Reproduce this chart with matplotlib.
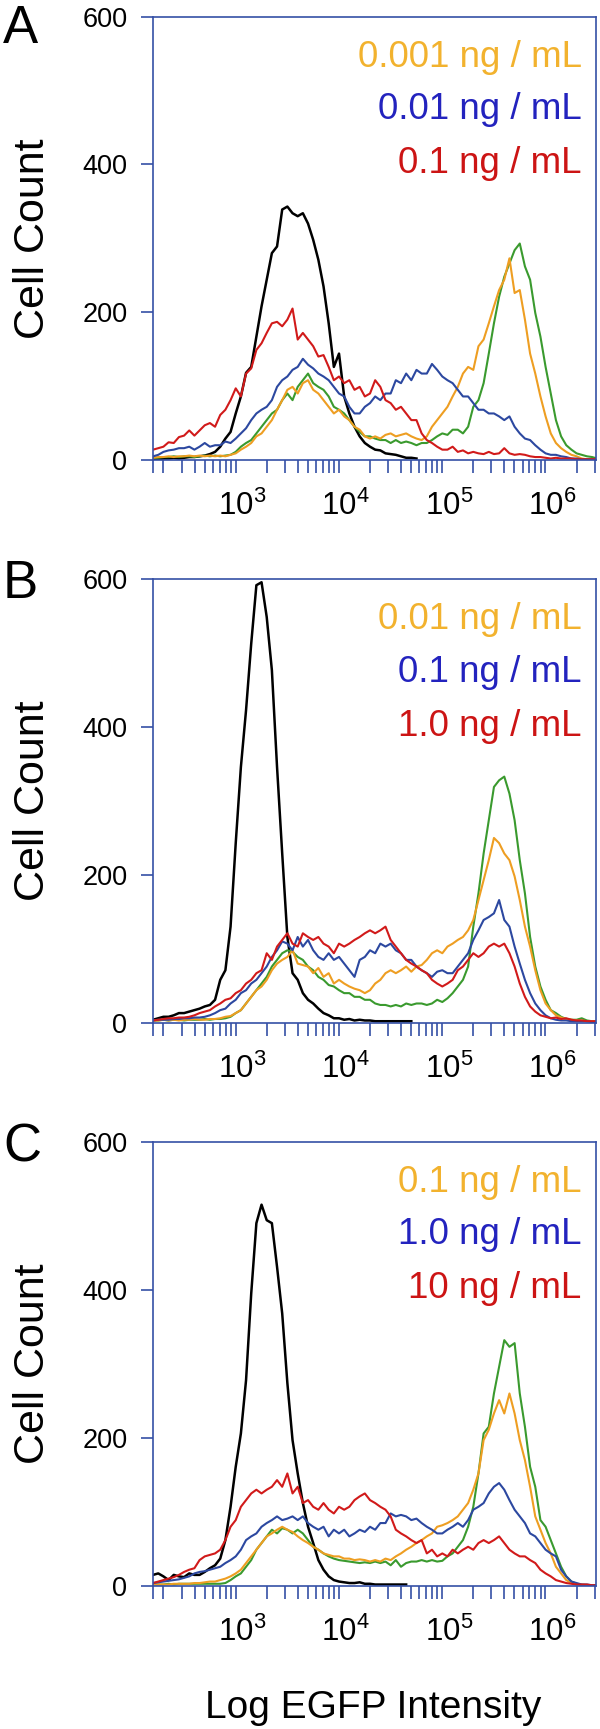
import numpy as np
import matplotlib
matplotlib.use("Agg")
import matplotlib.pyplot as plt
from matplotlib.ticker import FixedLocator, FixedFormatter, NullFormatter

plt.rcParams['font.family'] = ['Liberation Sans', 'DejaVu Sans']
plt.rcParams['mathtext.fontset'] = 'custom'
plt.rcParams['mathtext.rm'] = 'Liberation Sans'

nan = float('nan')

# histogram bin centres, log10(EGFP intensity)
log_bins = [1.90, 1.95, 2.00, 2.05, 2.10, 2.15, 2.20, 2.25, 2.30, 2.35,
            2.40, 2.45, 2.50, 2.55, 2.60, 2.65, 2.70, 2.75, 2.80, 2.85,
            2.90, 2.95, 3.00, 3.05, 3.10, 3.15, 3.20, 3.25, 3.30, 3.35,
            3.40, 3.45, 3.50, 3.55, 3.60, 3.65, 3.70, 3.75, 3.80, 3.85,
            3.90, 3.95, 4.00, 4.05, 4.10, 4.15, 4.20, 4.25, 4.30, 4.35,
            4.40, 4.45, 4.50, 4.55, 4.60, 4.65, 4.70, 4.75, 4.80, 4.85,
            4.90, 4.95, 5.00, 5.05, 5.10, 5.15, 5.20, 5.25, 5.30, 5.35,
            5.40, 5.45, 5.50, 5.55, 5.60, 5.65, 5.70, 5.75, 5.80, 5.85,
            5.90, 5.95, 6.00, 6.05, 6.10, 6.15, 6.20]

# ---------------- Panel A ----------------
A_black = [1, 1, 2, 2, 3, 2, 3, 4, 4, 5,
           6, 8, 11, 18, 29, 38, 63, 86, 118, 126,
           167, 208, 244, 280, 289, 339, 343, 334, 330, 334,
           320, 298, 271, 235, 185, 126, 144, 86, 63, 45,
           32, 23, 18, 14, 13, 9, 8, 7, 5, 3,
           3, 2, nan, nan, nan, nan, nan, nan, nan, nan,
           nan, nan, nan, nan, nan, nan, nan, nan, nan, nan,
           nan, nan, nan, nan, nan, nan, nan, nan, nan, nan,
           nan, nan, nan, nan, nan, nan, nan]
A_green = [3, 3, 4, 4, 5, 4, 5, 5, 4, 5,
           6, 5, 6, 5, 6, 7, 11, 18, 23, 27,
           36, 45, 54, 63, 68, 81, 90, 81, 99, 108,
           117, 104, 99, 95, 86, 72, 68, 63, 54, 45,
           38, 32, 32, 29, 27, 27, 23, 27, 23, 25,
           23, 20, 23, 23, 27, 32, 36, 34, 41, 41,
           36, 45, 72, 81, 104, 144, 185, 221, 248, 266,
           284, 293, 262, 244, 199, 167, 126, 90, 54, 32,
           20, 14, 9, 7, 5, 4, 2]
A_orange = [3, 4, 4, 5, 4, 5, 5, 6, 5, 6,
            5, 6, 5, 6, 5, 7, 9, 14, 18, 23,
            32, 36, 45, 54, 68, 81, 95, 99, 90, 104,
            108, 95, 90, 81, 72, 63, 68, 59, 54, 45,
            41, 32, 29, 32, 29, 34, 36, 32, 34, 36,
            32, 29, 27, 32, 45, 54, 63, 72, 86, 99,
            117, 126, 122, 154, 163, 185, 208, 230, 244, 273,
            226, 230, 190, 144, 117, 86, 59, 36, 23, 16,
            11, 7, 5, 2, 1, 1, 1]
A_blue = [5, 7, 11, 13, 14, 16, 16, 18, 14, 18,
          23, 18, 20, 20, 25, 23, 29, 36, 43, 54,
          63, 68, 72, 81, 99, 108, 113, 122, 126, 137,
          129, 124, 117, 113, 108, 99, 90, 86, 72, 63,
          63, 72, 77, 86, 81, 90, 90, 108, 104, 117,
          108, 122, 117, 117, 130, 122, 113, 108, 104, 95,
          86, 86, 77, 68, 68, 63, 63, 59, 54, 59,
          45, 36, 29, 27, 20, 14, 9, 7, 7, 5,
          4, 2, 2, 1, 1, 1, 1]
A_red = [14, 16, 18, 24, 23, 31, 33, 40, 33, 40,
         47, 50, 45, 61, 68, 81, 97, 86, 117, 124,
         149, 158, 172, 185, 187, 181, 190, 205, 163, 172,
         163, 154, 140, 142, 126, 108, 113, 104, 108, 95,
         99, 86, 90, 108, 99, 81, 77, 68, 72, 63,
         54, 54, 36, 27, 23, 18, 14, 14, 18, 11,
         13, 9, 11, 9, 8, 11, 8, 9, 16, 9,
         7, 8, 7, 5, 4, 4, 3, 2, 3, 2,
         2, 2, 1, 1, 1, 1, 1]

# ---------------- Panel B ----------------
B_black = [4, 6, 8, 8, 10, 13, 13, 15, 17, 19,
           22, 24, 31, 58, 71, 130, 243, 346, 423, 513,
           592, 596, 549, 477, 346, 229, 116, 67, 58, 40,
           31, 26, 19, 13, 10, 6, 6, 4, 5, 3,
           4, 3, 3, 2, 2, 2, 2, 2, 2, 2,
           2, nan, nan, nan, nan, nan, nan, nan, nan, nan,
           nan, nan, nan, nan, nan, nan, nan, nan, nan, nan,
           nan, nan, nan, nan, nan, nan, nan, nan, nan, nan,
           nan, nan, nan, nan, nan, nan, nan]
B_green = [3, 3, 4, 3, 4, 4, 3, 4, 4, 4,
           5, 4, 5, 5, 6, 8, 13, 17, 26, 35,
           44, 53, 62, 76, 85, 94, 98, 96, 89, 85,
           76, 71, 62, 58, 51, 49, 44, 40, 40, 35,
           35, 31, 31, 26, 24, 24, 22, 24, 22, 26,
           24, 26, 26, 24, 26, 31, 28, 33, 40, 49,
           58, 76, 130, 175, 229, 274, 319, 328, 333, 310,
           274, 220, 175, 116, 76, 49, 31, 17, 13, 8,
           5, 4, 4, 6, 3, 2, 2]
B_orange = [3, 3, 4, 3, 4, 3, 4, 4, 5, 4,
            4, 5, 5, 6, 8, 9, 13, 17, 26, 35,
            44, 49, 58, 71, 80, 85, 89, 98, 80, 78,
            76, 67, 74, 62, 67, 53, 58, 53, 49, 46,
            44, 40, 44, 53, 58, 67, 71, 67, 71, 76,
            69, 76, 78, 85, 94, 98, 94, 103, 107, 112,
            116, 125, 139, 166, 193, 220, 250, 243, 229, 220,
            198, 166, 130, 103, 71, 44, 26, 17, 10, 7,
            5, 4, 3, 3, 2, 2, 2]
B_blue = [3, 4, 4, 4, 5, 5, 6, 6, 7, 7,
          8, 10, 13, 17, 19, 26, 31, 40, 44, 53,
          58, 67, 76, 89, 98, 110, 107, 98, 116, 103,
          112, 98, 89, 85, 94, 85, 89, 80, 71, 62,
          85, 89, 98, 94, 107, 103, 107, 98, 94, 85,
          85, 76, 71, 67, 62, 69, 71, 67, 67, 76,
          85, 94, 112, 125, 139, 143, 148, 166, 139, 130,
          103, 80, 58, 40, 26, 17, 10, 6, 4, 3,
          3, 2, 2, 2, 2, 1, 1]
B_red = [3, 4, 5, 6, 6, 7, 7, 8, 10, 13,
         15, 17, 22, 26, 31, 33, 40, 44, 53, 58,
         67, 71, 94, 85, 103, 112, 121, 107, 103, 121,
         116, 112, 116, 107, 103, 94, 107, 103, 107, 112,
         116, 121, 125, 121, 125, 130, 112, 103, 94, 85,
         80, 76, 71, 67, 58, 53, 49, 53, 58, 71,
         76, 85, 94, 89, 94, 103, 107, 103, 107, 94,
         76, 53, 35, 22, 15, 10, 8, 6, 7, 5,
         6, 4, 3, 3, 2, 2, 2]

# ---------------- Panel C ----------------
C_black = [15, 17, 13, 8, 15, 13, 12, 17, 15, 15,
           19, 24, 28, 37, 62, 107, 161, 206, 278, 395,
           490, 515, 494, 490, 431, 368, 274, 197, 152, 112,
           80, 58, 35, 22, 13, 8, 6, 5, 4, 4,
           5, 3, 3, 2, 2, 2, 2, 2, 2, 2,
           nan, nan, nan, nan, nan, nan, nan, nan, nan, nan,
           nan, nan, nan, nan, nan, nan, nan, nan, nan, nan,
           nan, nan, nan, nan, nan, nan, nan, nan, nan, nan,
           nan, nan, nan, nan, nan, nan, nan]
C_green = [2, 2, 2, 3, 2, 3, 3, 3, 3, 3,
           3, 3, 3, 3, 4, 8, 13, 17, 26, 35,
           49, 58, 67, 76, 71, 78, 76, 71, 76, 71,
           62, 53, 49, 44, 40, 37, 35, 34, 33, 32,
           31, 32, 31, 33, 31, 33, 28, 35, 26, 31,
           33, 33, 35, 33, 35, 33, 34, 40, 44, 53,
           62, 80, 107, 152, 206, 215, 260, 296, 332, 323,
           328, 260, 215, 161, 134, 89, 80, 62, 44, 26,
           13, 6, 3, 1, 1, 1, 1]
C_orange = [2, 2, 2, 2, 3, 3, 3, 3, 4, 4,
            5, 6, 6, 8, 10, 13, 17, 22, 31, 40,
            49, 58, 67, 71, 76, 80, 76, 73, 67, 62,
            58, 53, 49, 44, 42, 40, 40, 37, 37, 35,
            36, 35, 33, 35, 33, 37, 35, 40, 44, 49,
            53, 58, 62, 67, 71, 80, 82, 85, 89, 94,
            103, 112, 130, 152, 197, 211, 233, 251, 233, 260,
            233, 197, 170, 134, 94, 76, 58, 44, 26, 17,
            8, 4, 2, 2, 1, 1, 1]
C_blue = [4, 5, 6, 7, 8, 9, 11, 13, 17, 19,
          20, 22, 24, 26, 31, 35, 40, 49, 62, 67,
          71, 80, 85, 89, 94, 89, 91, 94, 89, 94,
          85, 80, 76, 80, 67, 76, 71, 76, 67, 71,
          76, 73, 80, 76, 85, 85, 98, 94, 96, 94,
          89, 91, 85, 80, 76, 71, 71, 76, 80, 85,
          80, 89, 103, 107, 112, 125, 134, 139, 130, 116,
          103, 94, 85, 71, 67, 58, 49, 44, 40, 22,
          13, 6, 4, 2, 2, 1, 1]
C_red = [4, 6, 8, 10, 12, 15, 19, 22, 24, 35,
         40, 42, 44, 49, 62, 80, 89, 107, 116, 125,
         130, 125, 130, 134, 143, 134, 152, 125, 134, 112,
         116, 107, 103, 112, 103, 98, 107, 103, 107, 116,
         121, 125, 116, 112, 107, 103, 94, 76, 71, 67,
         62, 58, 62, 44, 49, 40, 44, 40, 49, 44,
         49, 53, 49, 58, 62, 58, 62, 67, 58, 49,
         44, 40, 40, 35, 31, 22, 17, 13, 8, 6,
         4, 3, 2, 2, 2, 1, 1]

panel_letters = ['A', 'B', 'C']
legend_labels = [
    ['0.001 ng / mL', '0.01 ng / mL', '0.1 ng / mL'],
    ['0.01 ng / mL', '0.1 ng / mL', '1.0 ng / mL'],
    ['0.1 ng / mL', '1.0 ng / mL', '10 ng / mL'],
]
y_ticks = [0, 200, 400, 600]
x_major = [1e3, 1e4, 1e5, 1e6]
x_tick_labels = [r'$\mathregular{10^{3}}$', r'$\mathregular{10^{4}}$',
                 r'$\mathregular{10^{5}}$', r'$\mathregular{10^{6}}$']
x_label = 'Log EGFP Intensity'
y_label = 'Cell Count'

panels = [
    (A_black, A_green, A_orange, A_blue, A_red),
    (B_black, B_green, B_orange, B_blue, B_red),
    (C_black, C_green, C_orange, C_blue, C_red),
]

# ---------------- style ----------------
W, H = 600, 1729
AX_BLUE = '#3550A6'
line_colors = ['#000000', '#3A9A2E', '#EE9E22', '#2C48A0', '#D11A1A']
line_widths = [1.8, 1.5, 1.5, 1.5, 1.5]
text_colors = ['#F2B22E', '#2323BE', '#CC1414']

ax_left, ax_right = 153.3, 596.0
ax_tops = [16.7, 579.3, 1141.7]
ax_bots = [460.0, 1022.7, 1586.0]
letter_base = [43, 598, 1162]
legend_base = [66.7, 119.3, 173.3]  # baselines in panel A, px

x = 10 ** np.array(log_bins)
minor_ticks = [80] + [m * 10 ** k for k in range(2, 6)
                      for m in (1, 1.5, 2, 2.5, 3, 3.5, 4, 4.5, 5) if m != 1 or k == 2] + [1.5e6]

fig = plt.figure(figsize=(W / 100, H / 100), dpi=100)

for i, series in enumerate(panels):
    top, bot = ax_tops[i], ax_bots[i]
    ax = fig.add_axes([ax_left / W, 1 - bot / H, (ax_right - ax_left) / W, (bot - top) / H])
    for ys, c, lw in zip(series, line_colors, line_widths):
        ax.plot(x, ys, color=c, lw=lw, solid_joinstyle='round')
    ax.set_xscale('log')
    ax.set_xlim(10 ** 1.902, 10 ** 6.188)
    ax.set_ylim(0, 600)
    for s in ax.spines.values():
        s.set_color(AX_BLUE)
        s.set_linewidth(1.2)
    ax.yaxis.set_major_locator(FixedLocator(y_ticks))
    ax.set_yticklabels([str(v) for v in y_ticks])
    ax.xaxis.set_major_locator(FixedLocator(x_major))
    ax.xaxis.set_major_formatter(FixedFormatter(x_tick_labels))
    ax.xaxis.set_minor_locator(FixedLocator(minor_ticks))
    ax.xaxis.set_minor_formatter(NullFormatter())
    ax.tick_params(axis='y', direction='out', length=8.6, width=1.2, color=AX_BLUE,
                   labelsize=19.5, pad=10, labelcolor='black')
    ax.tick_params(axis='x', which='both', direction='out', length=9.4, width=1.2,
                   color=AX_BLUE, labelsize=22.5, pad=13, labelcolor='black')
    for lab in ax.get_xticklabels():
        lab.set_horizontalalignment('right')
    for j, (txt, tc) in enumerate(zip(legend_labels[i], text_colors)):
        yb = top + (legend_base[j] - ax_tops[0])
        ax.text((581.7 - ax_left) / (ax_right - ax_left), 1 - (yb - top) / (bot - top), txt,
                transform=ax.transAxes, ha='right', va='baseline', fontsize=26.5, color=tc)
    fig.text(3 / W, 1 - letter_base[i] / H, panel_letters[i], ha='left', va='baseline',
             fontsize=38, color='black')
    fig.text(44 / W, 1 - (top + bot) / 2 / H, y_label, rotation=90, rotation_mode='anchor',
             ha='center', va='baseline', fontsize=31, color='black')

fig.text(373.5 / W, 1 - 1718 / H, x_label, ha='center', va='baseline', fontsize=28, color='black')

fig.savefig('out.png', dpi=100)
